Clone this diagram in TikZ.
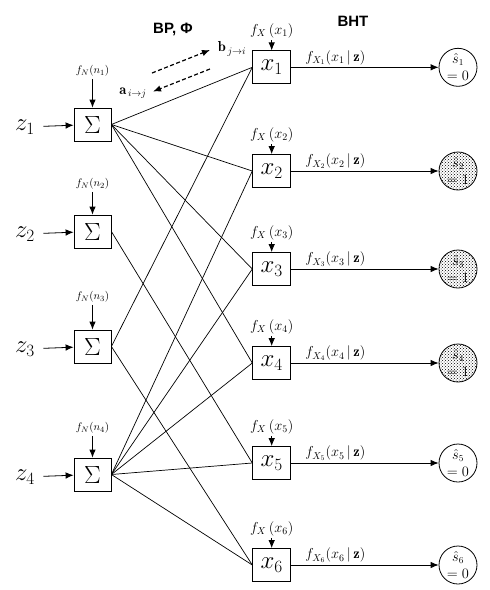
\documentclass[tikz,border=0pt]{standalone}
\usepackage{fontspec}
\newfontfamily\headfont{Liberation Sans}
\usetikzlibrary{positioning,patterns,arrows.meta}

\begin{document}
\begin{tikzpicture}[x=1pt,y=-1pt,>={Latex[length=8pt,width=6.5pt]},line width=0.8pt,
    sum node/.style={draw,minimum width=37pt,minimum height=33pt,inner sep=0pt,font=\fontsize{25}{25}\selectfont},
    var node/.style={draw,minimum width=38pt,minimum height=33pt,inner sep=0pt,font=\fontsize{27}{27}\selectfont},
    dec node/.style={circle,draw,minimum size=38pt,inner sep=0pt,align=center,font=\fontsize{13.5}{17}\selectfont},
    obs node/.style={inner xsep=8pt,font=\fontsize{23}{23}\selectfont},
    prior node/.style={inner sep=2pt,font=\fontsize{11}{11}\selectfont},
    pdf node/.style={inner sep=2pt,font=\fontsize{14.5}{14.5}\selectfont},
    head node/.style={font=\headfont\bfseries\fontsize{15}{15}\selectfont}]
    \useasboundingbox (0,0) rectangle (490,590);

    % sum nodes
    \node[sum node] (s1) at (92.5,124.5) {$\Sigma$};
    \node[sum node] (s2) at (92.5,231.5) {$\Sigma$};
    \node[sum node] (s3) at (92.5,346.5) {$\Sigma$};
    \node[sum node] (s4) at (92.5,474.5) {$\Sigma$};
    \node[obs node] (z1) at (25,127) {$z_1$};
    \node[obs node] (z2) at (25,234) {$z_2$};
    \node[obs node] (z3) at (25,349) {$z_3$};
    \node[obs node] (z4) at (25,477) {$z_4$};
    \node[prior node] (n1) at (92.5,71) {$f_N(n_1)$};
    \node[prior node] (n2) at (92.5,184) {$f_N(n_2)$};
    \node[prior node] (n3) at (92.5,297) {$f_N(n_3)$};
    \node[prior node] (n4) at (92.5,428) {$f_N(n_4)$};

    % variable nodes
    \node[var node] (x1) at (271.7,67.3) {$x_1$};
    \node[var node] (x2) at (271.7,171) {$x_2$};
    \node[var node] (x3) at (271.7,269) {$x_3$};
    \node[var node] (x4) at (271.7,363) {$x_4$};
    \node[var node] (x5) at (271.7,463) {$x_5$};
    \node[var node] (x6) at (271.7,565) {$x_6$};
    \foreach \i in {1,...,6}
        \node[pdf node] (p\i) [above=10pt of x\i] {$f_X\,(x_\i)$};

    % decisions
    \node[dec node] (d1) at (458,67.3) {$\hat{s}_1$\\$=0$};
    \node[dec node,pattern=crosshatch dots] (d2) at (458,171) {$\hat{s}_2$\\$=1$};
    \node[dec node,pattern=crosshatch dots] (d3) at (458,269) {$\hat{s}_3$\\$=1$};
    \node[dec node,pattern=crosshatch dots] (d4) at (458,363) {$\hat{s}_4$\\$=1$};
    \node[dec node] (d5) at (458,463) {$\hat{s}_5$\\$=0$};
    \node[dec node] (d6) at (458,565) {$\hat{s}_6$\\$=0$};

    \node[head node] (bp) at (173,29) {BP, Φ};
    \node[head node] (bht) at (353,21) {BHT};
    \coordinate (m1) at (152,73);
    \coordinate (m2) at (210,50);
    \coordinate (m3) at (210,69);
    \coordinate (m4) at (153,91.5);
    \node[pdf node] (b) at (232,49) {$\mathbf{b}_{\,j\rightarrow i}$};
    \node[pdf node] (a) at (133,93) {$\mathbf{a}_{\,i\rightarrow j}$};

    \path[line width=0.7pt]
        (s1.east) edge (x1.west)
        (s1.east) edge (x2.west)
        (s1.east) edge (x3.west)
        (s1.east) edge (x4.west)
        (s2.east) edge (x5.west)
        (s3.east) edge (x1.west)
        (s3.east) edge (x6.west)
        (s4.east) edge (x2.west)
        (s4.east) edge (x3.west)
        (s4.east) edge (x4.west)
        (s4.east) edge (x5.west)
        (s4.east) edge (x6.west)
    ;

    \foreach \i in {1,...,4} {
        \draw[->] (z\i) -- (s\i);
        \draw[->] (n\i) -- (s\i);
    }
    \foreach \i in {1,...,6} {
        \draw[->] (p\i) -- (x\i);
        \draw[->] (x\i) -- node[pdf node,above,pos=0.3] {$f_{X_\i}(x_\i\,|\,\mathbf{z})$} (d\i);
    }

    \draw[->,line width=1.2pt,dash pattern=on 4pt off 2.5pt] (m1) -- (m2);
    \draw[->,line width=1.2pt,dash pattern=on 4pt off 2.5pt] (m3) -- (m4);
\end{tikzpicture}
\end{document}
